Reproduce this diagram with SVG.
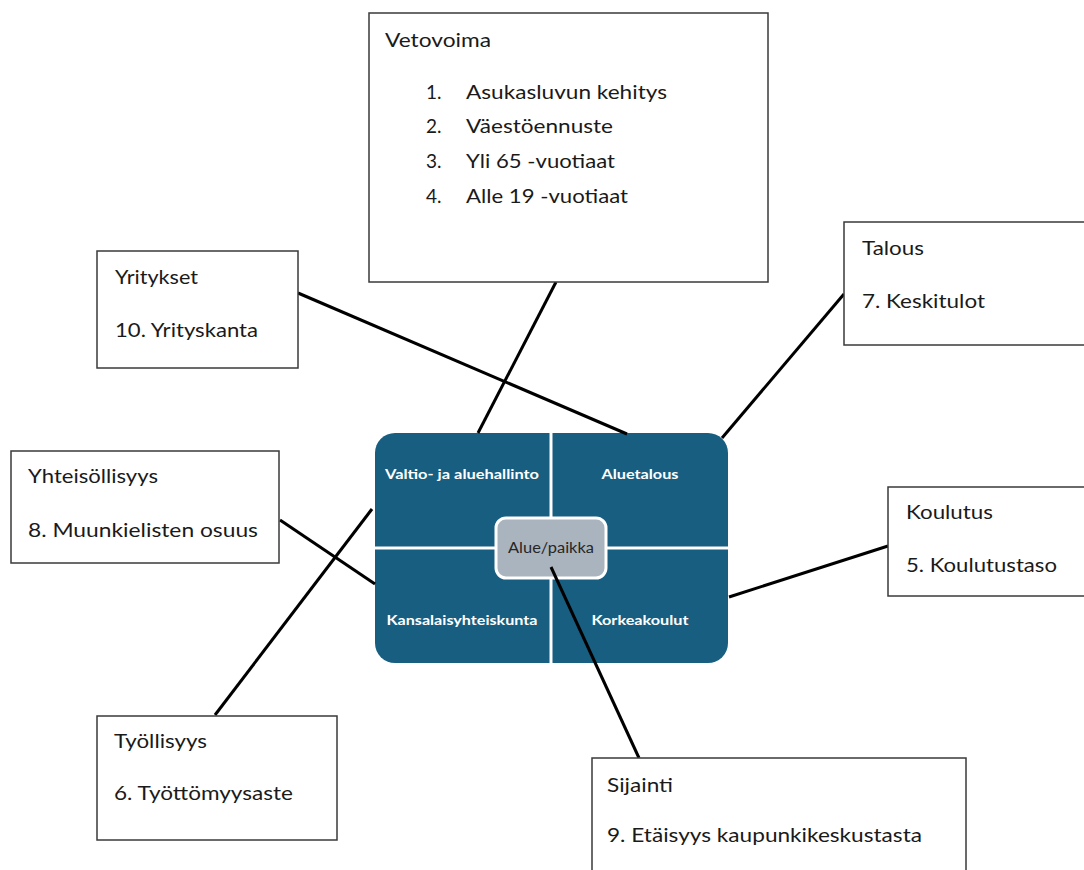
<svg xmlns="http://www.w3.org/2000/svg" width="1084" height="870" viewBox="0 0 1084 870">
<style>
.box{fill:#fff;stroke:#3a3a3a;stroke-width:1.5}
.t{font-family:Lato,"Open Sans","Liberation Sans",sans-serif;font-size:19px;fill:#1a1a1a}
.c{font-family:Lato,"Open Sans","Liberation Sans",sans-serif;font-size:14px;font-weight:bold;fill:#fff;text-anchor:middle}
.cd{font-family:Lato,"Open Sans","Liberation Sans",sans-serif;font-size:14.5px;fill:#262626;text-anchor:middle}
.ln{stroke:#000;stroke-width:3;fill:none}
</style>
<rect width="1084" height="870" fill="#fff"/>
<g id="hub">
<rect x="375" y="433" width="353" height="230" rx="20" fill="#175e80"/>
<line x1="551" y1="433" x2="551" y2="663" stroke="#fff" stroke-width="3"/>
<line x1="375" y1="548" x2="728" y2="548" stroke="#fff" stroke-width="3"/>
<text class="c" x="462" y="479" textLength="154" lengthAdjust="spacingAndGlyphs">Valtio- ja aluehallinto</text>
<text class="c" x="640" y="479" textLength="77" lengthAdjust="spacingAndGlyphs">Aluetalous</text>
<text class="c" x="462" y="625" textLength="151" lengthAdjust="spacingAndGlyphs">Kansalaisyhteiskunta</text>
<text class="c" x="640" y="625" textLength="97" lengthAdjust="spacingAndGlyphs">Korkeakoulut</text>
</g>
<g id="connectors">
<line class="ln" x1="556" y1="282" x2="478" y2="433"/>
<line class="ln" x1="298" y1="293" x2="627" y2="434"/>
<line class="ln" x1="844" y1="294" x2="722" y2="438"/>
<line class="ln" x1="280" y1="520" x2="375" y2="584"/>
<line class="ln" x1="888" y1="546" x2="729" y2="597"/>
<line class="ln" x1="215" y1="715" x2="372" y2="509"/>
</g>
<g id="center">
<rect x="496" y="518" width="110" height="60" rx="10" fill="#aab4be" stroke="#fff" stroke-width="3"/>
<text class="cd" x="551" y="553" textLength="86" lengthAdjust="spacingAndGlyphs">Alue/paikka</text>
</g>
<g id="connector-sijainti">
<line class="ln" x1="551" y1="567" x2="639" y2="758"/>
</g>
<g id="vetovoima">
<rect class="box" x="369" y="13" width="399" height="269"/>
<text class="t" x="385" y="47" textLength="106" lengthAdjust="spacingAndGlyphs">Vetovoima</text>
<text class="t" x="426" y="99">1.</text>
<text class="t" x="466" y="99" textLength="201" lengthAdjust="spacingAndGlyphs">Asukasluvun kehitys</text>
<text class="t" x="426" y="133">2.</text>
<text class="t" x="466" y="133" textLength="147" lengthAdjust="spacingAndGlyphs">Väestöennuste</text>
<text class="t" x="426" y="168">3.</text>
<text class="t" x="466" y="168" textLength="149" lengthAdjust="spacingAndGlyphs">Yli 65 -vuotiaat</text>
<text class="t" x="426" y="203">4.</text>
<text class="t" x="466" y="203" textLength="162" lengthAdjust="spacingAndGlyphs">Alle 19 -vuotiaat</text>
</g>
<g id="talous">
<rect class="box" x="844" y="222" width="250" height="123"/>
<text class="t" x="862" y="255" textLength="62" lengthAdjust="spacingAndGlyphs">Talous</text>
<text class="t" x="862" y="308" textLength="123" lengthAdjust="spacingAndGlyphs">7. Keskitulot</text>
</g>
<g id="yritykset">
<rect class="box" x="97" y="251" width="201" height="117"/>
<text class="t" x="115" y="284" textLength="83" lengthAdjust="spacingAndGlyphs">Yritykset</text>
<text class="t" x="115" y="337" textLength="143" lengthAdjust="spacingAndGlyphs">10. Yrityskanta</text>
</g>
<g id="yhteisollisyys">
<rect class="box" x="11" y="451" width="268" height="112"/>
<text class="t" x="28" y="483" textLength="130" lengthAdjust="spacingAndGlyphs">Yhteisöllisyys</text>
<text class="t" x="28" y="537" textLength="230" lengthAdjust="spacingAndGlyphs">8. Muunkielisten osuus</text>
</g>
<g id="koulutus">
<rect class="box" x="888" y="487" width="206" height="109"/>
<text class="t" x="906" y="519" textLength="87" lengthAdjust="spacingAndGlyphs">Koulutus</text>
<text class="t" x="906" y="572" textLength="151" lengthAdjust="spacingAndGlyphs">5. Koulutustaso</text>
</g>
<g id="tyollisyys">
<rect class="box" x="97" y="716" width="240" height="124"/>
<text class="t" x="114" y="748" textLength="93" lengthAdjust="spacingAndGlyphs">Työllisyys</text>
<text class="t" x="114" y="800" textLength="179" lengthAdjust="spacingAndGlyphs">6. Työttömyysaste</text>
</g>
<g id="sijainti">
<rect class="box" x="592" y="758" width="374" height="130"/>
<text class="t" x="607" y="792" textLength="66" lengthAdjust="spacingAndGlyphs">Sijainti</text>
<text class="t" x="607" y="842" textLength="315" lengthAdjust="spacingAndGlyphs">9. Etäisyys kaupunkikeskustasta</text>
</g>
</svg>
